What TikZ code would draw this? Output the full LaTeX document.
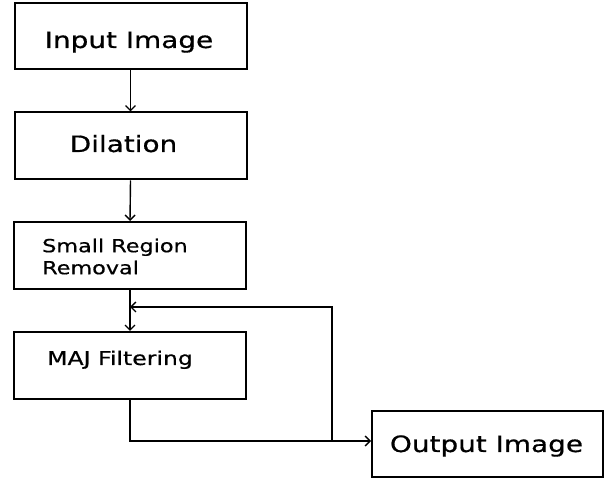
\documentclass[tikz,border=0pt]{standalone}
\usepackage{fontspec}
\setmainfont{DejaVu Sans}[FakeStretch=1.24,FakeBold=0.6]
\usetikzlibrary{arrows.meta}
\begin{document}
\begin{tikzpicture}[x=1pt,y=1pt,
  box/.style={draw=black,line width=2pt,minimum width=232pt,minimum height=66pt,inner sep=0pt},
  big/.style={inner sep=0pt,font=\fontsize{22.5}{27}\selectfont},
  mid/.style={inner sep=0pt,font=\fontsize{19}{23}\selectfont},
  sml/.style={inner sep=0pt,font=\fontsize{18}{22}\selectfont,align=left},
  conn/.style={line width=1.4pt},
  arr/.style={conn,-{Straight Barb[length=5pt,width=10pt,line width=1.4pt]}}]
\useasboundingbox (0,0) rectangle (611,479);
\node[box] (b1) at (130.5,442.5) {};
\node[box,minimum height=67pt] (b2) at (130.5,333) {};
\node[box,minimum height=67pt] (b3) at (130,223.5) {};
\node[box,minimum height=67pt] (b4) at (130,113.5) {};
\node[box,minimum width=231pt] (b5) at (487.5,35) {};
\node[big,anchor=base] (t1) at (129,431) {Input Image};
\node[big,anchor=base] (t2) at (123.5,327) {Dilation};
\node[sml,anchor=west] (t3) at (42,222.5) {Small Region\\Removal};
\node[mid,anchor=base west] (t4) at (47,114) {MAJ Filtering};
\node[big,anchor=base] (t5) at (486.5,27) {Output Image};
\draw[arr] (b1.south) -- (b2.north);
\draw[arr] (b2.south) -- (b3.north);
\draw[arr] (b3.south) -- (b4.north);
\coordinate (fb) at (332,172);
\coordinate (j) at (332,38);
\draw[arr] (b4.south) |- (j) -- (b5.west |- j);
\draw[arr] (j) -- (fb) -- (b3.south |- fb);
\end{tikzpicture}
\end{document}
